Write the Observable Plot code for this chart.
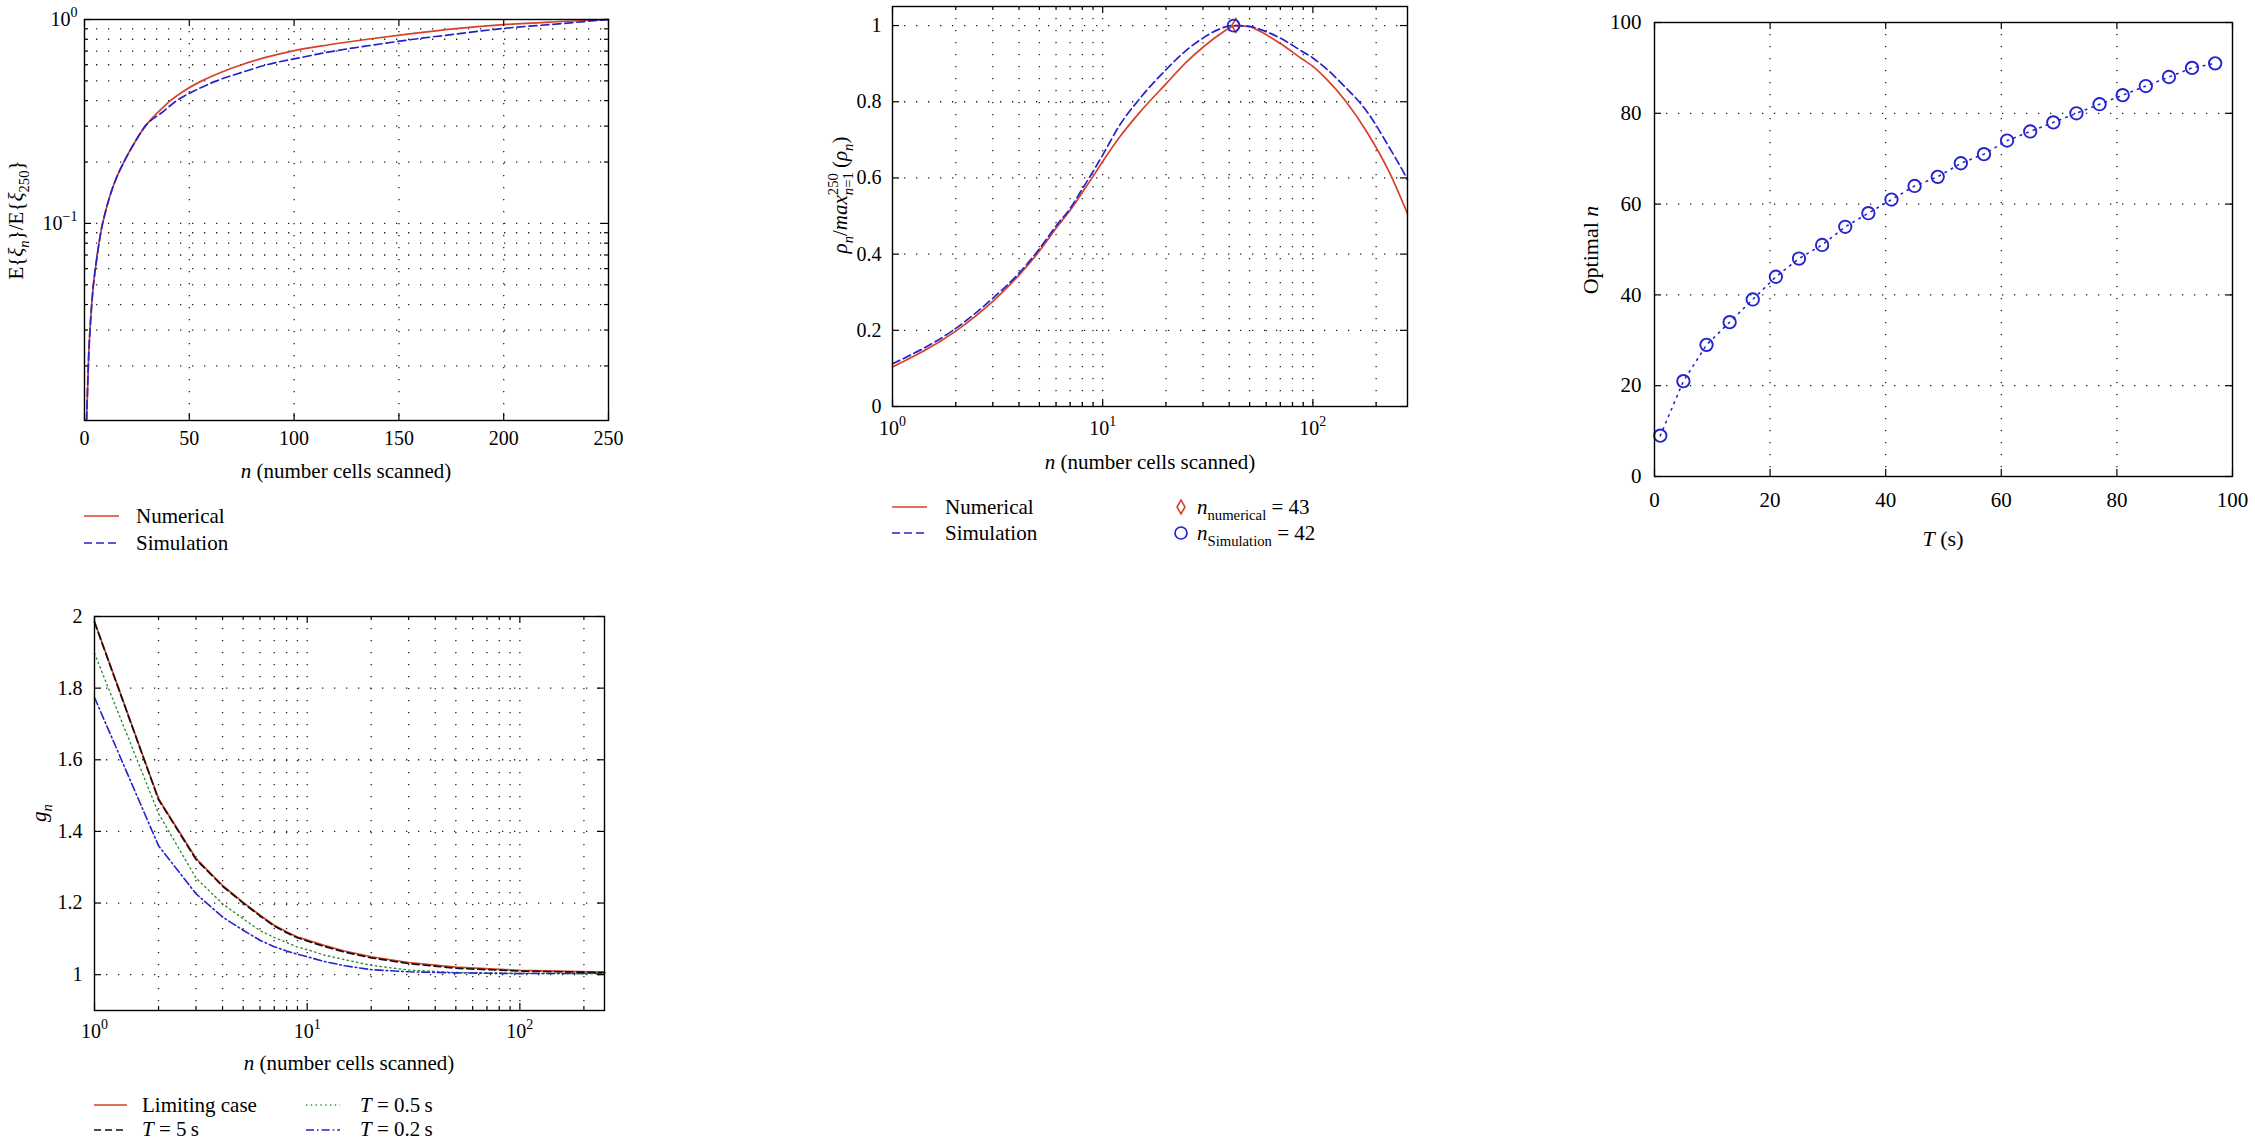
<!DOCTYPE html>
<html>
<head>
<meta charset="utf-8">
<script src="https://cdn.jsdelivr.net/npm/d3@7"></script>
<script src="https://cdn.jsdelivr.net/npm/@observablehq/plot@0.6"></script>
<style>
  html, body { margin: 0; padding: 0; background: #fff; }
  #fig { position: relative; width: 2255px; height: 1142px; overflow: hidden; background: #fff;
         font-family: "Liberation Serif", "DejaVu Serif", serif; }
  #fig svg { position: absolute; overflow: visible; }
  #fig svg text { font-family: "Liberation Serif", "DejaVu Serif", serif; }
</style>
</head>
<body>
<div id="fig"></div>
<script>
// ---------------- DATA ----------------
// Panel A : E{xi_n}/E{xi_250} vs n (log y)
const nA_num = [1,2,3,4,5,6,7,8,10,12,15,19,24,29,35,41,48,56,65,75,86,99,116,135,155,176,200,225,250];
const valA_num = [0.0108,0.0225,0.0345,0.047,0.058,0.069,0.081,0.093,0.114,0.135,0.165,0.202,0.25,0.30,0.35,0.40,0.45,0.50,0.55,0.60,0.65,0.70,0.75,0.80,0.85,0.90,0.944,0.975,1.0];
const nA_sim = [1,2,3,4,5,6,7,8,10,12,15,19,24,29,37,44,53,63,75,87,103,119,138,157,178,198,225,250];
const valA_sim = [0.0108,0.0225,0.0345,0.047,0.058,0.069,0.081,0.093,0.114,0.135,0.165,0.202,0.25,0.30,0.35,0.40,0.45,0.50,0.55,0.60,0.65,0.70,0.75,0.80,0.85,0.90,0.95,1.0];
const ticksA_x = [0, 50, 100, 150, 200, 250];
const gridA_x = [50, 100, 150, 200];
const ticksA_y = [0.1, 1];
const minorA_y = [0.02,0.03,0.04,0.05,0.06,0.07,0.08,0.09,0.2,0.3,0.4,0.5,0.6,0.7,0.8,0.9];

// Panel B : rho_n / max rho_n vs n (log x)
const nB_num = [1,2,3,4,5,6,7,8,9,10,12,15,20,25,30,35,40,43,50,56,70,89,100,114,144,182,231,282];
const valB_num = [0.104,0.198,0.276,0.345,0.408,0.468,0.515,0.562,0.604,0.643,0.706,0.772,0.847,0.904,0.943,0.972,0.993,1.0,0.997,0.985,0.953,0.912,0.893,0.864,0.80,0.718,0.615,0.506];
const nB_sim = [1,2,3,4,5,6,7,8,9,10,12,15,20,25,30,35,42,50,56,70,89,100,114,144,166,182,231,273,282];
const valB_sim = [0.112,0.205,0.284,0.35,0.414,0.474,0.52,0.571,0.617,0.66,0.737,0.808,0.884,0.935,0.967,0.988,1.0,0.998,0.99,0.967,0.932,0.915,0.89,0.836,0.80,0.772,0.68,0.61,0.595];
const optB_n = [43, 42];          // numerical, simulation
const optB_v = [1.0, 1.0];
const ticksB_y = [0, 0.2, 0.4, 0.6, 0.8, 1];
const gridB_y = [0.2, 0.4, 0.6, 0.8, 1];

// shared log-x ticks
const ticksLog = [1, 10, 100];
const minorLog = [2,3,4,5,6,7,8,9,20,30,40,50,60,70,80,90,200];
const gridLog = [2,3,4,5,6,7,8,9,10,20,30,40,50,60,70,80,90,100,200];

// Panel C : optimal n vs T
const T_C = [1,5,9,13,17,21,25,29,33,37,41,45,49,53,57,61,65,69,73,77,81,85,89,93,97];
const optN_C = [9,21,29,34,39,44,48,51,55,58,61,64,66,69,71,74,76,78,80,82,84,86,88,90,91];
const ticksC = [0, 20, 40, 60, 80, 100];
const gridC = [20, 40, 60, 80];

// Panel D : g_n vs n (log x)
const nD = [1,2,3,4,5,6,7,8,9,10,12,15,20,30,50,100,250];
const gLimit = [1.986,1.491,1.325,1.249,1.202,1.166,1.138,1.12,1.105,1.097,1.082,1.066,1.05,1.034,1.021,1.012,1.007];
const gT5    = [1.984,1.489,1.322,1.247,1.200,1.164,1.136,1.117,1.103,1.094,1.079,1.063,1.047,1.031,1.018,1.010,1.006];
const gT05   = [1.897,1.45,1.27,1.198,1.156,1.123,1.104,1.09,1.077,1.07,1.055,1.042,1.026,1.013,1.006,1.004,1.002];
const gT02   = [1.774,1.36,1.226,1.161,1.124,1.096,1.078,1.066,1.057,1.05,1.037,1.025,1.014,1.008,1.005,1.003,1.004];
const ticksD_y = [1, 1.2, 1.4, 1.6, 1.8, 2];
const gridD_y = [1, 1.2, 1.4, 1.6, 1.8];

// ---------------- STYLE ----------------
const FONT = "Liberation Serif, DejaVu Serif, serif";
const RED = "#d8402a", BLUE = "#2424cc", GREEN = "#2f8f2f", INK = "#000";
const GRID = {stroke: "#222", strokeWidth: 1.3, strokeDasharray: "1.3,10.7"};
const table = (xs, ys) => xs.map((x, i) => ({x, y: ys[i]}));
const fig = document.getElementById("fig");

function supTicks(svg, fs) {
  d3.select(svg).selectAll("text").each(function () {
    const m = /^10\^(.+)$/.exec(this.textContent);
    if (!m) return;
    this.textContent = "10";
    d3.select(this).append("tspan").attr("dy", -0.45 * fs).attr("font-size", 0.7 * fs).text(m[1]);
  });
}

function boxTicks(xMaj, xMin, yMaj, yMin, f) {
  const fw = f.r - f.l, fh = f.b - f.t, M = 7, m = 4;
  const s = {stroke: INK, strokeWidth: 1.2};
  return [
    Plot.ruleX(xMaj, {x: d => d, insetTop: fh - M, ...s}),
    Plot.ruleX(xMaj, {x: d => d, insetBottom: fh - M, ...s}),
    Plot.ruleX(xMin, {x: d => d, insetTop: fh - m, ...s}),
    Plot.ruleX(xMin, {x: d => d, insetBottom: fh - m, ...s}),
    Plot.ruleY(yMaj, {y: d => d, insetRight: fw - M, ...s}),
    Plot.ruleY(yMaj, {y: d => d, insetLeft: fw - M, ...s}),
    Plot.ruleY(yMin, {y: d => d, insetRight: fw - m, ...s}),
    Plot.ruleY(yMin, {y: d => d, insetLeft: fw - m, ...s})
  ];
}

function makePlot({left, top, width, height, f, x, y, marks, fs}) {
  const svg = Plot.plot({
    width, height,
    marginLeft: f.l - left, marginTop: f.t - top,
    marginRight: left + width - f.r, marginBottom: top + height - f.b,
    style: {fontFamily: FONT, fontSize: fs + "px", background: "none", color: INK, overflow: "visible"},
    x, y, marks
  });
  svg.setAttribute("font-family", FONT);
  svg.style.position = "absolute";
  svg.style.left = left + "px";
  svg.style.top = top + "px";
  fig.appendChild(svg);
  supTicks(svg, fs);
  return svg;
}

const logFmt = d => "10^" + Math.round(Math.log10(d));

// ---------------- PANEL A ----------------
const fA = {l: 84, t: 19, r: 608, b: 420};
makePlot({
  left: 0, top: 0, width: 640, height: 460, f: fA, fs: 20,
  x: {domain: [0, 250]},
  y: {type: "log", domain: [0.0108, 1]},
  marks: [
    Plot.ruleX(gridA_x, {x: d => d, ...GRID}),
    Plot.ruleY(minorA_y.concat([0.1]), {y: d => d, ...GRID}),
    Plot.line(table(nA_num, valA_num), {x: "x", y: "y", stroke: RED, strokeWidth: 1.7, curve: "monotone-x"}),
    Plot.line(table(nA_sim, valA_sim), {x: "x", y: "y", stroke: BLUE, strokeWidth: 1.7, strokeDasharray: "8,4", curve: "monotone-x"}),
    ...boxTicks(ticksA_x, [], ticksA_y, minorA_y, fA),
    Plot.frame({stroke: INK, strokeWidth: 1.4}),
    Plot.axisX({ticks: ticksA_x, tickSize: 0, tickPadding: 10, label: null}),
    Plot.axisY({ticks: ticksA_y, tickSize: 0, tickPadding: 7, label: null, tickFormat: d => d === 1 ? "10^0" : "10^\u22121"})
  ]
});

// ---------------- PANEL B ----------------
const fB = {l: 892, t: 6, r: 1407, b: 406};
makePlot({
  left: 760, top: 0, width: 680, height: 460, f: fB, fs: 20,
  x: {type: "log", domain: [1, 282]},
  y: {domain: [0, 1.05]},
  marks: [
    Plot.ruleX(gridLog, {x: d => d, ...GRID}),
    Plot.ruleY(gridB_y, {y: d => d, ...GRID}),
    Plot.line(table(nB_num, valB_num), {x: "x", y: "y", stroke: RED, strokeWidth: 1.7, curve: "monotone-x"}),
    Plot.line(table(nB_sim, valB_sim), {x: "x", y: "y", stroke: BLUE, strokeWidth: 1.7, strokeDasharray: "8,4", curve: "monotone-x"}),
    Plot.dot(table([optB_n[0]], [optB_v[0]]), {x: "x", y: "y", symbol: "diamond", r: 4.2, stroke: RED, strokeWidth: 1.6, fill: "none"}),
    Plot.dot(table([optB_n[1]], [optB_v[1]]), {x: "x", y: "y", r: 6, stroke: BLUE, strokeWidth: 1.7, fill: "none"}),
    ...boxTicks(ticksLog, minorLog, ticksB_y, [], fB),
    Plot.frame({stroke: INK, strokeWidth: 1.4}),
    Plot.axisX({ticks: ticksLog, tickSize: 0, tickPadding: 14, label: null, tickFormat: logFmt}),
    Plot.axisY({ticks: ticksB_y, tickSize: 0, tickPadding: 11, label: null, tickFormat: d => String(d)})
  ]
});

// ---------------- PANEL C ----------------
const fC = {l: 1654, t: 22, r: 2232, b: 476};
makePlot({
  left: 1560, top: 0, width: 695, height: 530, f: fC, fs: 21,
  x: {domain: [0, 100]},
  y: {domain: [0, 100]},
  marks: [
    Plot.ruleX(gridC, {x: d => d, ...GRID}),
    Plot.ruleY(gridC, {y: d => d, ...GRID}),
    Plot.line(table(T_C, optN_C), {x: "x", y: "y", stroke: BLUE, strokeWidth: 1.6, strokeDasharray: "1.5,5.5"}),
    Plot.dot(table(T_C, optN_C), {x: "x", y: "y", r: 6.2, stroke: BLUE, strokeWidth: 1.9, fill: "none"}),
    ...boxTicks(ticksC, [], ticksC, [], fC),
    Plot.frame({stroke: INK, strokeWidth: 1.4}),
    Plot.axisX({ticks: ticksC, tickSize: 0, tickPadding: 16, label: null}),
    Plot.axisY({ticks: ticksC, tickSize: 0, tickPadding: 13, label: null})
  ]
});

// ---------------- PANEL D ----------------
const fD = {l: 94, t: 616, r: 604, b: 1010};
makePlot({
  left: 0, top: 580, width: 640, height: 470, f: fD, fs: 20,
  x: {type: "log", domain: [1, 250]},
  y: {domain: [0.9, 2]},
  marks: [
    Plot.ruleX(gridLog, {x: d => d, ...GRID}),
    Plot.ruleY(gridD_y, {y: d => d, ...GRID}),
    Plot.line(table(nD, gT05), {x: "x", y: "y", stroke: GREEN, strokeWidth: 1.4, strokeDasharray: "1.4,3.4"}),
    Plot.line(table(nD, gT02), {x: "x", y: "y", stroke: BLUE, strokeWidth: 1.6, strokeDasharray: "8,3,1.6,3"}),
    Plot.line(table(nD, gLimit), {x: "x", y: "y", stroke: RED, strokeWidth: 1.7}),
    Plot.line(table(nD, gT5), {x: "x", y: "y", stroke: "#111", strokeWidth: 1.7, strokeDasharray: "7,4"}),
    ...boxTicks(ticksLog, minorLog, ticksD_y, [], fD),
    Plot.frame({stroke: INK, strokeWidth: 1.4}),
    Plot.axisX({ticks: ticksLog, tickSize: 0, tickPadding: 13, label: null, tickFormat: logFmt}),
    Plot.axisY({ticks: ticksD_y, tickSize: 0, tickPadding: 12, label: null, tickFormat: d => String(d)})
  ]
});

// ---------------- LABELS & LEGENDS ----------------
const ov = d3.select(fig).append("svg")
  .attr("width", 2255).attr("height", 1142)
  .style("left", "0px").style("top", "0px")
  .attr("font-family", FONT);

function rich(x, y, parts, fs, opt = {}) {
  const t = ov.append("text").attr("font-size", fs).attr("text-anchor", opt.anchor || "middle").attr("fill", INK);
  if (opt.rotate) t.attr("transform", `translate(${x},${y}) rotate(-90)`);
  else t.attr("x", x).attr("y", y);
  let cur = 0, prevW = 0, pendingDx = 0;
  for (let p of parts) {
    if (typeof p === "string") p = {t: p};
    const size = (p.sub || p.sup) ? 0.7 * fs : fs;
    const off = p.sub ? 0.3 * fs : p.sup ? -0.45 * fs : 0;
    const ts = t.append("tspan").attr("font-size", size);
    const segs = Array.isArray(p.t) ? p.t : [[p.t, !!p.it]];
    segs.forEach(([s, i]) => { const u = ts.append("tspan").text(s); if (i) u.attr("font-style", "italic"); });
    if (off !== cur) ts.attr("dy", off - cur);
    cur = off;
    let dx = pendingDx; pendingDx = 0;
    if (p.back) dx -= prevW;
    if (dx) ts.attr("dx", dx);
    const w = ts.node().getComputedTextLength();
    if (p.back && prevW > w) pendingDx = prevW - w;
    prevW = w;
  }
  return t;
}

const LF = 21;
const xlab = [{t: "n", it: true}, " (number cells scanned)"];
// Panel A
rich(346, 478, xlab, LF);
rich(23, 220, ["E{", {t: "\u03BE", it: true}, {t: "n", it: true, sub: true}, "}/E{", {t: "\u03BE", it: true}, {t: "250", sub: true}, "}"], LF, {rotate: true});
// Panel B
rich(1150, 469, xlab, LF);
rich(847, 195, [{t: "\u03C1", it: true}, {t: "n", it: true, sub: true}, "/", {t: "max", it: true},
  {t: [["n", true], ["=1", false]], sub: true}, {t: "250", sup: true, back: true}, "\u2009(", {t: "\u03C1", it: true}, {t: "n", it: true, sub: true}, ")"], LF, {rotate: true});
// Panel C
rich(1943, 546, [{t: "T", it: true}, " (s)"], 22);
rich(1598, 250, ["Optimal ", {t: "n", it: true}], 22, {rotate: true});
// Panel D
rich(349, 1070, xlab, LF);
rich(46, 813, [{t: "g", it: true}, {t: "n", it: true, sub: true}], LF, {rotate: true});

function legLine(x1, x2, y, stroke, dash, w = 1.7) {
  ov.append("line").attr("x1", x1).attr("x2", x2).attr("y1", y).attr("y2", y)
    .attr("stroke", stroke).attr("stroke-width", w).attr("stroke-dasharray", dash || null);
}
const base = 7;
// Legend A
legLine(84, 119, 516, RED);
rich(136, 516 + base, ["Numerical"], LF, {anchor: "start"});
legLine(84, 119, 543, BLUE, "8,4");
rich(136, 543 + base, ["Simulation"], LF, {anchor: "start"});
// Legend B
legLine(892, 927, 507, RED);
rich(945, 507 + base, ["Numerical"], LF, {anchor: "start"});
legLine(892, 927, 533, BLUE, "8,4");
rich(945, 533 + base, ["Simulation"], LF, {anchor: "start"});
ov.append("path").attr("d", d3.symbol(d3.symbolDiamond, Math.PI * 4.2 * 4.2)()).attr("transform", "translate(1181,507)")
  .attr("fill", "none").attr("stroke", RED).attr("stroke-width", 1.6);
ov.append("circle").attr("cx", 1181).attr("cy", 533).attr("r", 6).attr("fill", "none").attr("stroke", BLUE).attr("stroke-width", 1.7);
rich(1197, 507 + base, [{t: "n", it: true}, {t: "numerical", sub: true}, " = " + optB_n[0]], LF, {anchor: "start"});
rich(1197, 533 + base, [{t: "n", it: true}, {t: "Simulation", sub: true}, " = " + optB_n[1]], LF, {anchor: "start"});
// Legend D
const rowD1 = 1105, rowD2 = 1130;
legLine(94, 127, rowD1, RED);
rich(142, rowD1 + base, ["Limiting case"], LF, {anchor: "start"});
legLine(94, 127, rowD2, "#111", "7,4");
rich(142, rowD2 + 6, [{t: "T", it: true}, " = 5\u2009s"], LF, {anchor: "start"});
legLine(306, 340, rowD1, GREEN, "1.4,3.4", 1.4);
rich(360, rowD1 + base, [{t: "T", it: true}, " = 0.5\u2009s"], LF, {anchor: "start"});
legLine(306, 340, rowD2, BLUE, "8,3,1.6,3", 1.6);
rich(360, rowD2 + 6, [{t: "T", it: true}, " = 0.2\u2009s"], LF, {anchor: "start"});
</script>
</body>
</html>
